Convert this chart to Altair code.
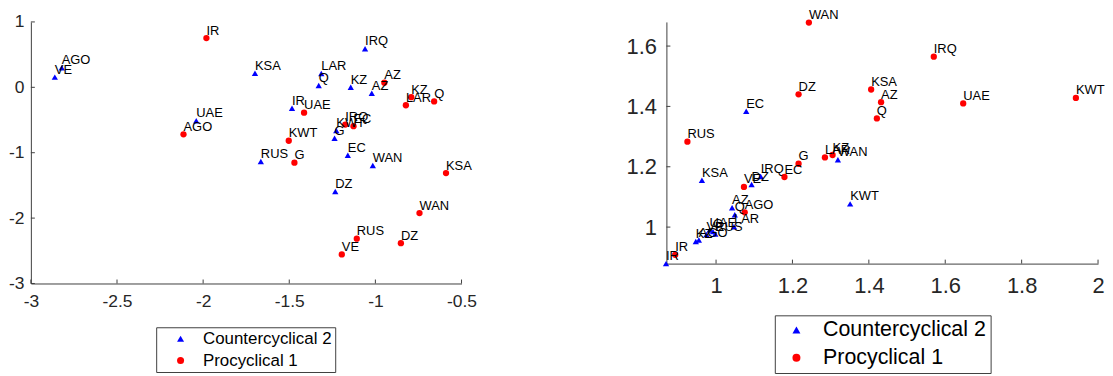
import altair as alt
import pandas as pd

countries = ["AGO", "AZ", "DZ", "EC", "G", "IR", "IRQ", "KSA", "KWT", "KZ",
             "LAR", "Q", "RUS", "UAE", "VE", "WAN"]
series_names = ["Countercyclical 2", "Procyclical 1"]

# Left panel
left_counter_x = [-2.821, -1.021, -1.233, -1.160, -1.237, -1.484, -1.060, -1.699,
                  -1.227, -1.143, -1.314, -1.329, -1.665, -2.040, -2.861, -1.015]
left_counter_y = [0.300, -0.092, -1.593, -1.040, -0.778, -0.319, 0.590, 0.215,
                  -0.659, 0.000, 0.210, 0.027, -1.133, -0.511, 0.156, -1.197]
left_pro_x = [-2.114, -0.948, -0.852, -1.127, -1.470, -1.981, -1.175, -0.590,
              -1.503, -0.792, -0.823, -0.659, -1.108, -1.414, -1.195, -0.744]
left_pro_y = [-0.719, 0.071, -2.383, -0.595, -1.153, 0.753, -0.570, -1.311,
              -0.817, -0.151, -0.274, -0.215, -2.314, -0.388, -2.556, -1.923]

# Right panel
right_counter_x = [0.955, 1.042, 1.093, 1.079, 0.992, 0.869, 1.117, 0.963,
                   1.351, 0.947, 1.047, 1.049, 0.998, 0.983, 0.975, 1.319]
right_counter_y = [0.957, 1.064, 1.141, 1.384, 0.985, 0.879, 1.168, 1.155,
                   1.077, 0.952, 1.001, 1.041, 0.977, 0.990, 0.975, 1.223]
right_pro_x = [1.075, 1.432, 1.216, 1.179, 1.216, 0.893, 1.570, 1.406,
               1.942, 1.305, 1.285, 1.421, 0.925, 1.647, 1.073, 1.243]
right_pro_y = [1.049, 1.414, 1.440, 1.166, 1.210, 0.908, 1.565, 1.456,
               1.428, 1.239, 1.231, 1.360, 1.283, 1.410, 1.133, 1.678]

left_xticks = [-3, -2.5, -2, -1.5, -1, -0.5]
left_yticks = [-3, -2, -1, 0, 1]
right_xticks = [1, 1.2, 1.4, 1.6, 1.8, 2]
right_yticks = [1, 1.2, 1.4, 1.6]

FONT = "Liberation Sans"
AXIS_COLOR = "#404040"
TEXT_COLOR = "#262626"
MINUS_FIX = "datum.value < 0 ? '-' + format(-datum.value, '.1~f') : format(datum.value, '.1~f')"


def make_df(cx, cy, px, py):
    rows = []
    for n, x, y in zip(countries, cx, cy):
        rows.append({"name": n, "x": x, "y": y, "series": series_names[0]})
    for n, x, y in zip(countries, px, py):
        rows.append({"name": n, "x": x, "y": y, "series": series_names[1]})
    return pd.DataFrame(rows)


def panel(df, xdom, ydom, xticks, yticks, w, h, tick_fs, xlab_pad, ylab_pad,
          leg_x, leg_y, leg_fs, leg_sym, leg_pad, leg_symoff, leg_laboff, leg_rowpad):
    xs = alt.Scale(domain=xdom, nice=False, zero=False)
    ys = alt.Scale(domain=ydom, nice=False, zero=False)
    xaxis = alt.Axis(values=xticks, labelExpr=MINUS_FIX, title=None,
                     grid=False, ticks=False, labelFont=FONT,
                     labelFontSize=tick_fs, labelColor=TEXT_COLOR, domainColor=AXIS_COLOR,
                     labelPadding=xlab_pad, labelFlush=False, labelOverlap=False)
    yaxis = alt.Axis(values=yticks, labelExpr=MINUS_FIX, title=None,
                     grid=False, ticks=False, labelFont=FONT,
                     labelFontSize=tick_fs, labelColor=TEXT_COLOR, domainColor=AXIS_COLOR,
                     labelPadding=ylab_pad, labelFlush=False, labelOverlap=False)
    legend = alt.Legend(title=None, orient="none", legendX=leg_x, legendY=leg_y,
                        labelFont=FONT, labelFontSize=leg_fs, labelColor="black",
                        labelLimit=400,
                        symbolSize=leg_sym, strokeColor=AXIS_COLOR, fillColor="white",
                        padding=leg_pad, symbolOffset=leg_symoff, labelOffset=leg_laboff,
                        rowPadding=leg_rowpad, symbolStrokeWidth=0)
    base = alt.Chart(df)
    pts = base.mark_point(filled=True, size=40, opacity=1).encode(
        x=alt.X("x:Q", scale=xs, axis=xaxis),
        y=alt.Y("y:Q", scale=ys, axis=yaxis),
        color=alt.Color("series:N", scale=alt.Scale(domain=series_names,
                                                     range=["#0000ff", "#ff0000"]),
                        legend=legend),
        shape=alt.Shape("series:N", scale=alt.Scale(domain=series_names,
                                                     range=["triangle-up", "circle"]),
                        legend=legend),
    )
    labels = base.mark_text(align="left", baseline="alphabetic", dx=0, dy=-3.5,
                            font=FONT, fontSize=13, color="black").encode(
        x=alt.X("x:Q", scale=xs, axis=xaxis),
        y=alt.Y("y:Q", scale=ys, axis=yaxis),
        text="name:N",
    )
    xt = alt.Chart(pd.DataFrame({"x": xticks})).mark_rule(
        color=AXIS_COLOR, strokeWidth=1).encode(
        x=alt.X("x:Q", scale=xs, axis=xaxis),
        y=alt.value(h), y2=alt.value(h - 4))
    yt = alt.Chart(pd.DataFrame({"y": yticks})).mark_rule(
        color=AXIS_COLOR, strokeWidth=1).encode(
        y=alt.Y("y:Q", scale=ys, axis=yaxis),
        x=alt.value(0), x2=alt.value(4))
    return alt.layer(pts, labels, xt, yt).properties(width=w, height=h)


left = panel(make_df(left_counter_x, left_counter_y, left_pro_x, left_pro_y),
             [-3, -0.5], [-3, 1], left_xticks, left_yticks, 433, 263,
             17.5, 9, 7, 126, 307, 17, 50, 3, 13, 14, 4)
right = panel(make_df(right_counter_x, right_counter_y, right_pro_x, right_pro_y),
              [0.87, 2.0], [0.879, 1.68], right_xticks, right_yticks, 434, 243,
              22, 12, 10, 109, 295, 21.5, 64, 4, 7, 16, 5)

chart = alt.hconcat(left, right, spacing=149).resolve_scale(
    color="independent", shape="independent"
).resolve_legend(color="independent", shape="independent").properties(
    padding={"left": 0, "top": 0, "right": 0, "bottom": 0}
).configure_view(stroke=None)

chart.save("out.html", embed_options={"renderer": "svg", "actions": False})
